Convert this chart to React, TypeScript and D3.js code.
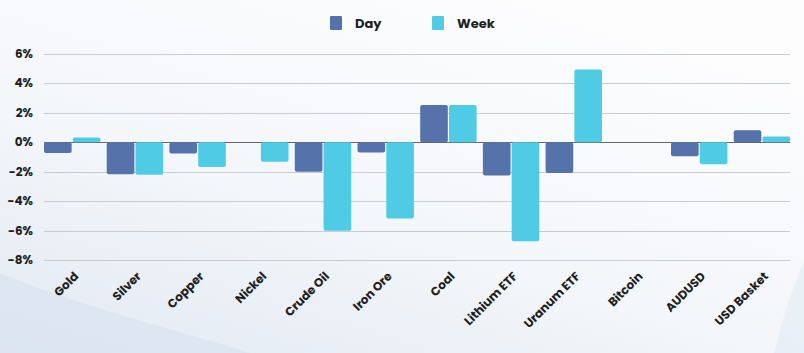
import React, { useEffect, useRef } from 'react'
import * as d3 from 'd3'

const W = 804, H = 353
const margin = { top: 54, right: 14, bottom: 93, left: 44 }

const categories = ['Gold', 'Silver', 'Copper', 'Nickel', 'Crude Oil', 'Iron Ore', 'Coal', 'Lithium ETF', 'Uranum ETF', 'Bitcoin', 'AUDUSD', 'USD Basket']
const dayValues = [-0.72, -2.17, -0.77, 0, -2.0, -0.7, 2.53, -2.26, -2.08, 0, -0.95, 0.82]
const weekValues = [0.32, -2.2, -1.68, -1.33, -6.02, -5.18, 2.53, -6.73, 4.95, 0, -1.5, 0.39]
const yTicks = [6, 4, 2, 0, -2, -4, -6, -8]
const seriesNames = ['Day', 'Week']
const colors = ['#5672aa', '#50cbe6']

const FONT = 'Poppins, Inter, "DejaVu Sans", sans-serif'

export default function App() {
  const ref = useRef<SVGSVGElement>(null)

  useEffect(() => {
    const svg = d3.select(ref.current)
    svg.selectAll('*').remove()

    // background
    const defs = svg.append('defs')
    const bg = defs.append('linearGradient').attr('id', 'bg')
      .attr('x1', '0').attr('y1', '1').attr('x2', '0.7').attr('y2', '0')
    bg.append('stop').attr('offset', '0%').attr('stop-color', '#e1e9f2')
    bg.append('stop').attr('offset', '45%').attr('stop-color', '#f3f6fa')
    bg.append('stop').attr('offset', '100%').attr('stop-color', '#fdfdfe')
    svg.append('rect').attr('width', W).attr('height', H).attr('fill', 'url(#bg)')
    svg.append('path')
      .attr('d', `M0,${H - 80} C70,${H - 50} 170,${H - 25} 250,${H} L0,${H} Z`)
      .attr('fill', '#d9e3ee').attr('opacity', 0.6)
    svg.append('path')
      .attr('d', `M${W - 30},${H} C${W - 20},${H - 40} ${W - 10},${H - 70} ${W},${H - 90} L${W},${H} Z`)
      .attr('fill', '#e6edf5').attr('opacity', 0.8)

    const x0 = d3.scaleBand<string>()
      .domain(categories)
      .range([margin.left, margin.left + 12 * 62.7])

    const x1 = d3.scaleBand<string>()
      .domain(seriesNames)
      .range([0, x0.bandwidth() * 0.9])
      .paddingInner(0.04)

    const y = d3.scaleLinear()
      .domain([-8, 6])
      .range([H - margin.bottom, margin.top])

    const plotRight = W - margin.right

    // grid
    svg.append('g')
      .selectAll('line')
      .data(yTicks)
      .join('line')
      .attr('x1', margin.left)
      .attr('x2', plotRight)
      .attr('y1', d => Math.round(y(d)) + 0.5)
      .attr('y2', d => Math.round(y(d)) + 0.5)
      .attr('stroke', d => d === 0 ? '#666' : '#c8ccd2')
      .attr('stroke-width', 1)

    // y labels
    svg.append('g')
      .selectAll('text')
      .data(yTicks)
      .join('text')
      .attr('x', 33)
      .attr('y', d => y(d) + 4)
      .attr('text-anchor', 'end')
      .style('font-family', FONT)
      .style('font-size', '12px')
      .style('font-weight', 700)
      .attr('fill', '#1e1e1e')
      .text(d => `${d}%`)

    // bars
    const data = categories.map((c, i) => ({ cat: c, vals: [dayValues[i], weekValues[i]] }))
    svg.append('g')
      .selectAll('g')
      .data(data)
      .join('g')
      .attr('transform', d => `translate(${x0(d.cat)},0)`)
      .selectAll('rect')
      .data(d => d.vals.map((v, k) => ({ key: seriesNames[k], v, k })))
      .join('rect')
      .filter(d => d.v !== 0)
      .attr('x', d => x1(d.key)!)
      .attr('width', x1.bandwidth())
      .attr('y', d => y(Math.max(0, d.v)))
      .attr('height', d => Math.abs(y(d.v) - y(0)))
      .attr('rx', 2)
      .attr('fill', d => colors[d.k])

    // x labels
    svg.append('g')
      .selectAll('text')
      .data(categories)
      .join('text')
      .attr('transform', d => `translate(${x0(d)! + x0.bandwidth() * 0.45 + 7},277) rotate(-45)`)
      .attr('text-anchor', 'end')
      .style('font-family', FONT)
      .style('font-size', '12px')
      .style('font-weight', 700)
      .attr('fill', '#1e1e1e')
      .text(d => d)

    // legend
    const legend = svg.append('g')
    const lx = [330, 432]
    seriesNames.forEach((s, i) => {
      legend.append('rect')
        .attr('x', lx[i]).attr('y', 16)
        .attr('width', 12).attr('height', 14)
        .attr('rx', 1)
        .attr('fill', colors[i])
      legend.append('text')
        .attr('x', lx[i] + 25).attr('y', 28)
        .style('font-family', FONT)
        .style('font-size', '13px')
        .style('font-weight', 700)
        .attr('fill', '#1e1e1e')
        .text(s)
    })
  }, [])

  return (
    <svg ref={ref} width={W} height={H}
      style={{ position: 'fixed', left: 0, top: 0, display: 'block' }} />
  )
}
